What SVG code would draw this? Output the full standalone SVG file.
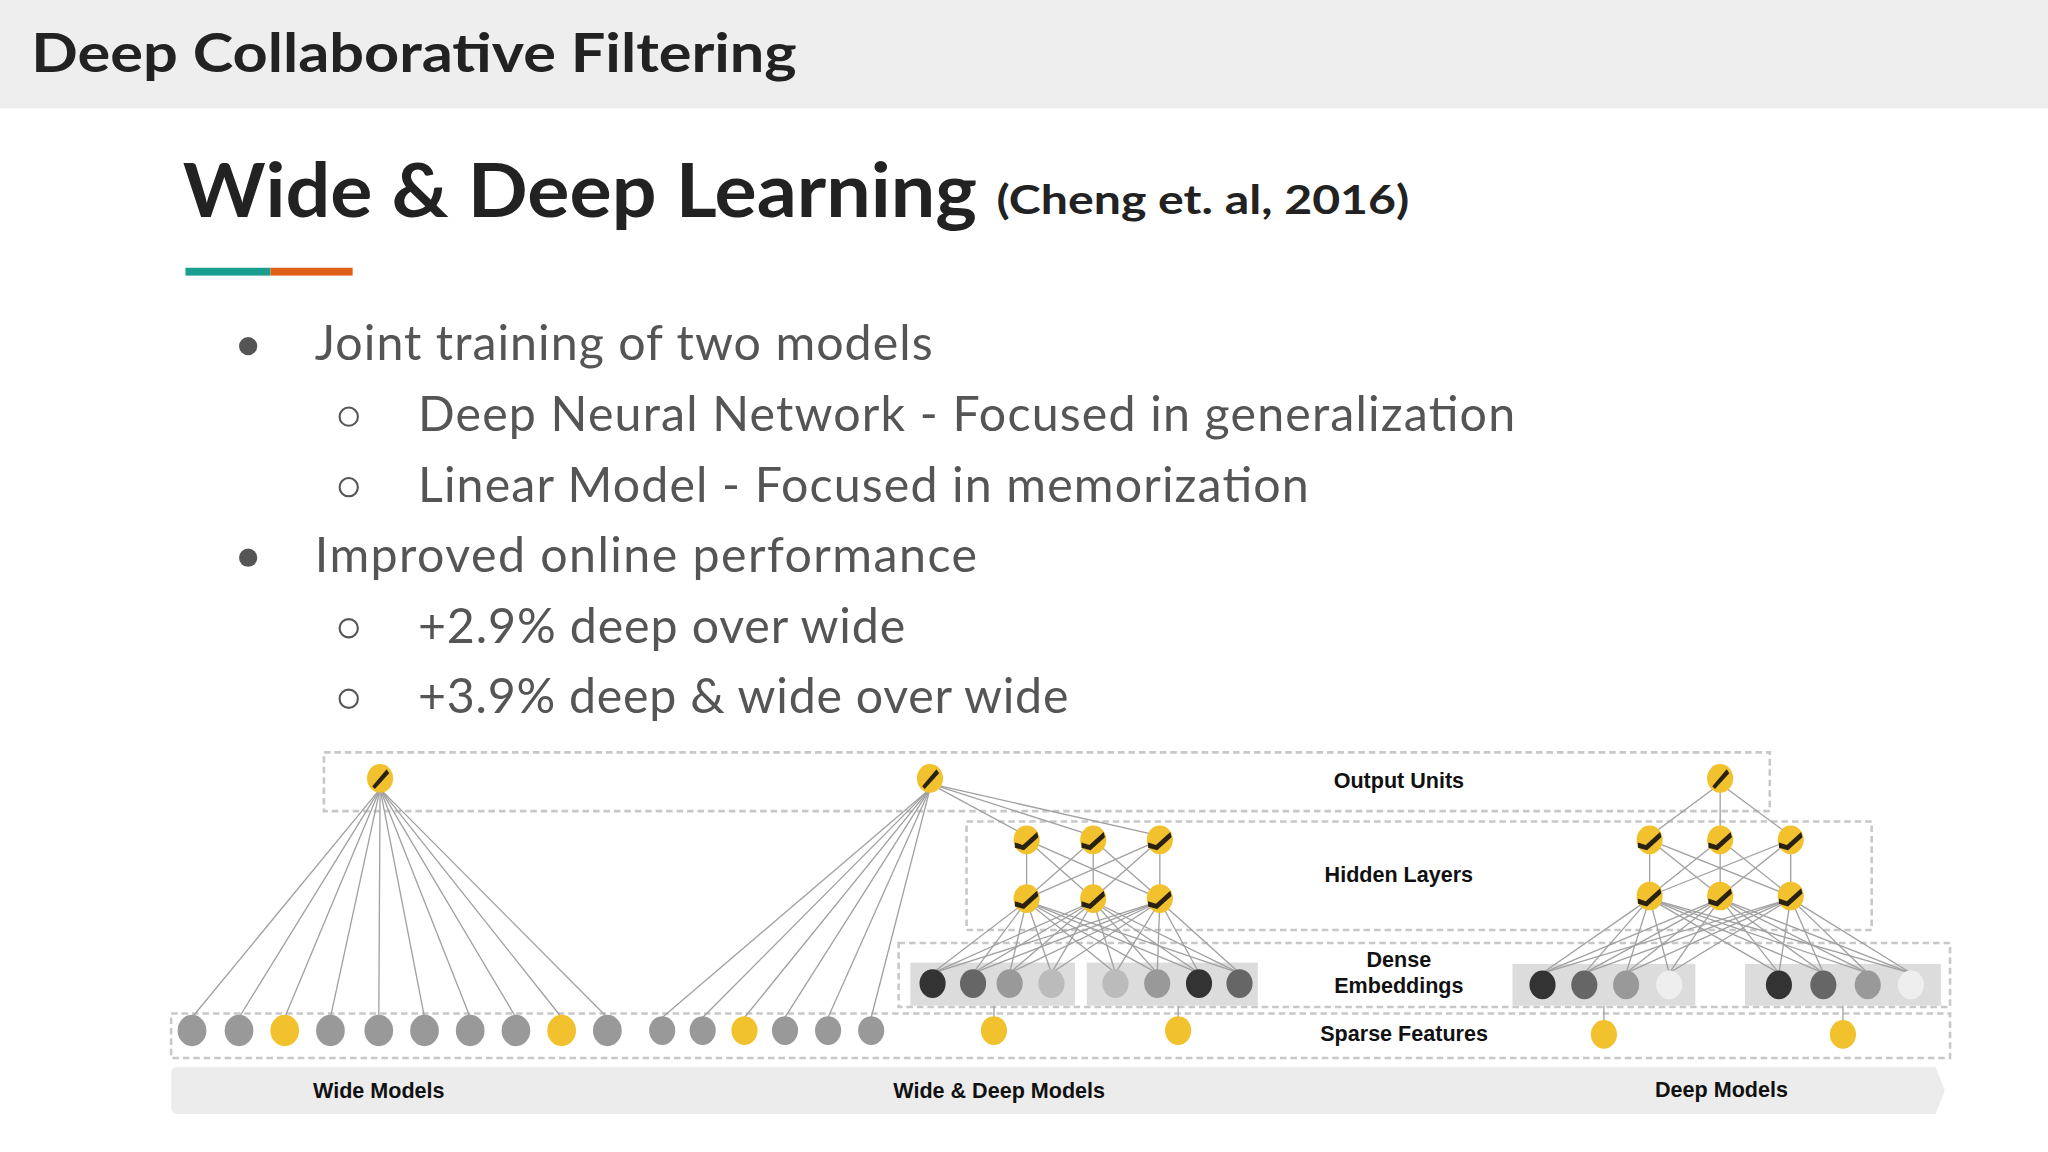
<svg xmlns="http://www.w3.org/2000/svg" width="2048" height="1152" viewBox="0 0 2048 1152">
<defs>
<style>
.h{font-family:Lato,"Open Sans",sans-serif;fill:#222;font-weight:bold}
.b{font-family:Lato,"Open Sans",sans-serif;fill:#555;font-size:37px}
.l{font-family:"Liberation Sans",Arial,sans-serif;font-weight:bold;font-size:16.5px;fill:#111;text-anchor:middle}
.box{fill:none;stroke:#c8c8c8;stroke-width:2;stroke-dasharray:5 3}
.c line{stroke:#a0a0a0;stroke-width:1}
.g{fill:#999}
.y{fill:#f2c12e}
</style>
<g id="outnode"><ellipse rx="10" ry="11" fill="#f2c12e"/><path d="M-6 6 L5 -7 L7 -4 L-4 8 Z" fill="#2a2210"/></g>
<g id="hidnode"><ellipse rx="10" ry="11" fill="#f2c12e"/><path d="M-9 2 L-3 4 L8 -6 L9 -2 L-2 8 L-9 6 Z" fill="#2a2210"/></g>
</defs>
<g transform="scale(1.306122)">
<rect x="0" y="0" width="1568" height="83" fill="#eeeeee"/>
<text class="h" x="24" y="55" font-size="41" textLength="586" lengthAdjust="spacingAndGlyphs">Deep Collaborative Filtering</text>
<text class="h" x="140" y="166" font-size="57" textLength="608" lengthAdjust="spacingAndGlyphs">Wide &amp; Deep Learning</text>
<text class="h" x="763" y="164" font-size="31" textLength="316" lengthAdjust="spacingAndGlyphs">(Cheng et. al, 2016)</text>
<rect x="142" y="205" width="65" height="6" fill="#1a9e8f"/>
<rect x="207" y="205" width="63" height="6" fill="#e0601a"/>
<g class="b">
<circle cx="190" cy="265" r="7" fill="#555"/><text x="241" y="276" textLength="473">Joint training of two models</text>
<circle cx="267" cy="319" r="7" fill="none" stroke="#555" stroke-width="1.6"/><text x="320" y="330" textLength="840">Deep Neural Network - Focused in generalization</text>
<circle cx="267" cy="373" r="7" fill="none" stroke="#555" stroke-width="1.6"/><text x="320" y="384" textLength="682">Linear Model - Focused in memorization</text>
<circle cx="190" cy="427" r="7" fill="#555"/><text x="241" y="438" textLength="507">Improved online performance</text>
<circle cx="267" cy="481" r="7" fill="none" stroke="#555" stroke-width="1.6"/><text x="320" y="492" textLength="373">+2.9% deep over wide</text>
<circle cx="267" cy="535" r="7" fill="none" stroke="#555" stroke-width="1.6"/><text x="320" y="546" textLength="498">+3.9% deep &amp; wide over wide</text>
</g>
<g id="frames">
<rect class="box" x="248" y="576" width="1107" height="45"/>
<rect class="box" x="740" y="629" width="693" height="83"/>
<rect class="box" x="688" y="722" width="805" height="49"/>
<rect class="box" x="131" y="776" width="1362" height="34"/>
<path d="M136 817 H1482 L1489 835 L1482 853 H136 Q131 853 131 848 V822 Q131 817 136 817 Z" fill="#ececec"/>
<rect x="697" y="737" width="126" height="33" fill="#dcdcdc"/>
<rect x="832" y="737" width="131" height="33" fill="#dcdcdc"/>
<rect x="1158" y="738" width="140" height="32" fill="#dcdcdc"/>
<rect x="1336" y="738" width="150" height="32" fill="#dcdcdc"/>
</g>
<g class="l">
<text x="1071" y="603">Output Units</text>
<text x="1071" y="675">Hidden Layers</text>
<text x="1071" y="740">Dense</text>
<text x="1071" y="760">Embeddings</text>
<text x="1075" y="797">Sparse Features</text>
<text x="290" y="841">Wide Models</text>
<text x="765" y="841">Wide &amp; Deep Models</text>
<text x="1318" y="840">Deep Models</text>
</g>
<g id="connectors" class="c">
<line x1="291" y1="604" x2="147" y2="779"/><line x1="291" y1="604" x2="183" y2="779"/><line x1="291" y1="604" x2="218" y2="779"/><line x1="291" y1="604" x2="253" y2="779"/><line x1="291" y1="604" x2="290" y2="779"/><line x1="291" y1="604" x2="325" y2="779"/><line x1="291" y1="604" x2="360" y2="779"/><line x1="291" y1="604" x2="395" y2="779"/><line x1="291" y1="604" x2="430" y2="779"/><line x1="291" y1="604" x2="465" y2="779"/>
<line x1="712" y1="604" x2="507" y2="779"/><line x1="712" y1="604" x2="538" y2="779"/><line x1="712" y1="604" x2="570" y2="779"/><line x1="712" y1="604" x2="601" y2="779"/><line x1="712" y1="604" x2="634" y2="779"/><line x1="712" y1="604" x2="667" y2="779"/>
<line x1="712" y1="600" x2="786" y2="640"/><line x1="712" y1="600" x2="837" y2="640"/><line x1="712" y1="600" x2="888" y2="640"/>
<line x1="786" y1="643" x2="786" y2="688"/><line x1="786" y1="643" x2="837" y2="688"/><line x1="786" y1="643" x2="888" y2="688"/><line x1="837" y1="643" x2="786" y2="688"/><line x1="837" y1="643" x2="837" y2="688"/><line x1="837" y1="643" x2="888" y2="688"/><line x1="888" y1="643" x2="786" y2="688"/><line x1="888" y1="643" x2="837" y2="688"/><line x1="888" y1="643" x2="888" y2="688"/>
<line x1="786" y1="690" x2="714" y2="745"/><line x1="786" y1="690" x2="745" y2="745"/><line x1="786" y1="690" x2="773" y2="745"/><line x1="786" y1="690" x2="805" y2="745"/><line x1="786" y1="690" x2="854" y2="745"/><line x1="786" y1="690" x2="886" y2="745"/><line x1="786" y1="690" x2="918" y2="745"/><line x1="786" y1="690" x2="949" y2="745"/>
<line x1="837" y1="690" x2="714" y2="745"/><line x1="837" y1="690" x2="745" y2="745"/><line x1="837" y1="690" x2="773" y2="745"/><line x1="837" y1="690" x2="805" y2="745"/><line x1="837" y1="690" x2="854" y2="745"/><line x1="837" y1="690" x2="886" y2="745"/><line x1="837" y1="690" x2="918" y2="745"/><line x1="837" y1="690" x2="949" y2="745"/>
<line x1="888" y1="690" x2="714" y2="745"/><line x1="888" y1="690" x2="745" y2="745"/><line x1="888" y1="690" x2="773" y2="745"/><line x1="888" y1="690" x2="805" y2="745"/><line x1="888" y1="690" x2="854" y2="745"/><line x1="888" y1="690" x2="886" y2="745"/><line x1="888" y1="690" x2="918" y2="745"/><line x1="888" y1="690" x2="949" y2="745"/>
<line x1="761" y1="770" x2="761" y2="780"/><line x1="902" y1="770" x2="902" y2="780"/>
<line x1="1317" y1="600" x2="1263" y2="640"/><line x1="1317" y1="600" x2="1317" y2="640"/><line x1="1317" y1="600" x2="1371" y2="640"/>
<line x1="1263" y1="643" x2="1263" y2="686"/><line x1="1263" y1="643" x2="1317" y2="686"/><line x1="1263" y1="643" x2="1371" y2="686"/><line x1="1317" y1="643" x2="1263" y2="686"/><line x1="1317" y1="643" x2="1317" y2="686"/><line x1="1317" y1="643" x2="1371" y2="686"/><line x1="1371" y1="643" x2="1263" y2="686"/><line x1="1371" y1="643" x2="1317" y2="686"/><line x1="1371" y1="643" x2="1371" y2="686"/>
<line x1="1263" y1="688" x2="1181" y2="745"/><line x1="1263" y1="688" x2="1213" y2="745"/><line x1="1263" y1="688" x2="1245" y2="745"/><line x1="1263" y1="688" x2="1278" y2="745"/><line x1="1263" y1="688" x2="1362" y2="745"/><line x1="1263" y1="688" x2="1396" y2="745"/><line x1="1263" y1="688" x2="1430" y2="745"/><line x1="1263" y1="688" x2="1463" y2="745"/>
<line x1="1317" y1="688" x2="1181" y2="745"/><line x1="1317" y1="688" x2="1213" y2="745"/><line x1="1317" y1="688" x2="1245" y2="745"/><line x1="1317" y1="688" x2="1278" y2="745"/><line x1="1317" y1="688" x2="1362" y2="745"/><line x1="1317" y1="688" x2="1396" y2="745"/><line x1="1317" y1="688" x2="1430" y2="745"/><line x1="1317" y1="688" x2="1463" y2="745"/>
<line x1="1371" y1="688" x2="1181" y2="745"/><line x1="1371" y1="688" x2="1213" y2="745"/><line x1="1371" y1="688" x2="1245" y2="745"/><line x1="1371" y1="688" x2="1278" y2="745"/><line x1="1371" y1="688" x2="1362" y2="745"/><line x1="1371" y1="688" x2="1396" y2="745"/><line x1="1371" y1="688" x2="1430" y2="745"/><line x1="1371" y1="688" x2="1463" y2="745"/>
<line x1="1228" y1="770" x2="1228" y2="782"/><line x1="1411" y1="770" x2="1411" y2="782"/>
</g>
<g id="wide-sparse">
<ellipse class="g" cx="147" cy="789" rx="11" ry="12"/><ellipse class="g" cx="183" cy="789" rx="11" ry="12"/><ellipse class="y" cx="218" cy="789" rx="11" ry="12"/><ellipse class="g" cx="253" cy="789" rx="11" ry="12"/><ellipse class="g" cx="290" cy="789" rx="11" ry="12"/><ellipse class="g" cx="325" cy="789" rx="11" ry="12"/><ellipse class="g" cx="360" cy="789" rx="11" ry="12"/><ellipse class="g" cx="395" cy="789" rx="11" ry="12"/><ellipse class="y" cx="430" cy="789" rx="11" ry="12"/><ellipse class="g" cx="465" cy="789" rx="11" ry="12"/>
</g>
<g id="wd-sparse">
<ellipse class="g" cx="507" cy="789" rx="10" ry="11"/><ellipse class="g" cx="538" cy="789" rx="10" ry="11"/><ellipse class="y" cx="570" cy="789" rx="10" ry="11"/><ellipse class="g" cx="601" cy="789" rx="10" ry="11"/><ellipse class="g" cx="634" cy="789" rx="10" ry="11"/><ellipse class="g" cx="667" cy="789" rx="10" ry="11"/>
<ellipse class="y" cx="761" cy="789" rx="10" ry="11"/><ellipse class="y" cx="902" cy="789" rx="10" ry="11"/>
</g>
<g id="deep-sparse"><ellipse class="y" cx="1228" cy="792" rx="10" ry="11"/><ellipse class="y" cx="1411" cy="792" rx="10" ry="11"/></g>
<g id="embeddings">
<ellipse cx="714" cy="753" rx="10" ry="11" fill="#333"/><ellipse cx="745" cy="753" rx="10" ry="11" fill="#666"/><ellipse cx="773" cy="753" rx="10" ry="11" fill="#999"/><ellipse cx="805" cy="753" rx="10" ry="11" fill="#bbb"/>
<ellipse cx="854" cy="753" rx="10" ry="11" fill="#bbb"/><ellipse cx="886" cy="753" rx="10" ry="11" fill="#999"/><ellipse cx="918" cy="753" rx="10" ry="11" fill="#333"/><ellipse cx="949" cy="753" rx="10" ry="11" fill="#666"/>
<ellipse cx="1181" cy="754" rx="10" ry="11" fill="#333"/><ellipse cx="1213" cy="754" rx="10" ry="11" fill="#666"/><ellipse cx="1245" cy="754" rx="10" ry="11" fill="#999"/><ellipse cx="1278" cy="754" rx="10" ry="11" fill="#eee"/>
<ellipse cx="1362" cy="754" rx="10" ry="11" fill="#333"/><ellipse cx="1396" cy="754" rx="10" ry="11" fill="#666"/><ellipse cx="1430" cy="754" rx="10" ry="11" fill="#999"/><ellipse cx="1463" cy="754" rx="10" ry="11" fill="#eee"/>
</g>
<g id="outputs"><use href="#outnode" x="291" y="596"/><use href="#outnode" x="712" y="596"/><use href="#outnode" x="1317" y="596"/></g>
<g id="hidden">
<use href="#hidnode" x="786" y="643"/><use href="#hidnode" x="837" y="643"/><use href="#hidnode" x="888" y="643"/>
<use href="#hidnode" x="786" y="688"/><use href="#hidnode" x="837" y="688"/><use href="#hidnode" x="888" y="688"/>
<use href="#hidnode" x="1263" y="643"/><use href="#hidnode" x="1317" y="643"/><use href="#hidnode" x="1371" y="643"/>
<use href="#hidnode" x="1263" y="686"/><use href="#hidnode" x="1317" y="686"/><use href="#hidnode" x="1371" y="686"/>
</g>
</g>
</svg>
